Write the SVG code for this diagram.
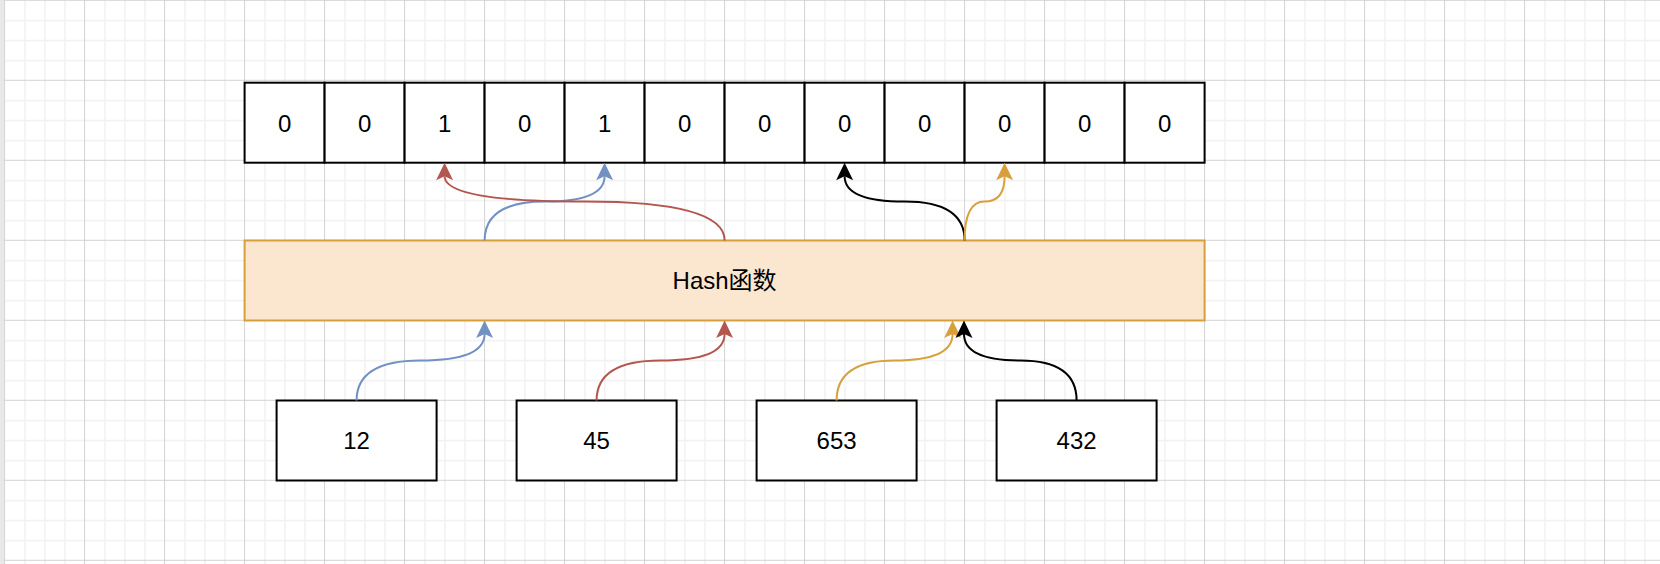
<svg xmlns="http://www.w3.org/2000/svg" width="1660" height="564" viewBox="0 0 1660 564">
  <style>
    .cell { fill: #ffffff; stroke: #000000; stroke-width: 2; }
    .box { fill: #ffffff; stroke: #000000; stroke-width: 2; }
    .hash { fill: #fbe6cf; stroke: #d7a03a; stroke-width: 2; }
    .t { font-family: "Liberation Sans", Arial, Helvetica, "Noto Sans CJK SC", sans-serif; font-size: 24px; fill: #000000; text-anchor: middle; }
    .edge { fill: none; stroke-width: 2; }
    .blue { stroke: #7191c2; }
    .red { stroke: #b3574e; }
    .orange { stroke: #d7a03a; }
    .black { stroke: #000000; }
  </style>
  <defs>
    <pattern id="grid" patternUnits="userSpaceOnUse" x="4.1" y="-0.2" width="80" height="80">
      <rect x="20" y="0" width="1.6" height="80" fill="#f2f2f2"/>
      <rect x="40" y="0" width="1.6" height="80" fill="#f2f2f2"/>
      <rect x="60" y="0" width="1.6" height="80" fill="#f2f2f2"/>
      <rect x="0" y="20" width="80" height="1.6" fill="#f2f2f2"/>
      <rect x="0" y="40" width="80" height="1.6" fill="#f2f2f2"/>
      <rect x="0" y="60" width="80" height="1.6" fill="#f2f2f2"/>
      <rect x="0" y="0" width="1" height="80" fill="#d3d3d3"/>
      <rect x="0" y="0" width="80" height="1" fill="#d3d3d3"/>
    </pattern>
    <marker id="mBlue" markerUnits="userSpaceOnUse" orient="auto" overflow="visible" refX="0" refY="0" markerWidth="20" markerHeight="20">
      <path d="M13.5,0 L-4,-8.5 L0,0 L-4,8.5 Z" fill="#7191c2"/>
    </marker>
    <marker id="mRed" markerUnits="userSpaceOnUse" orient="auto" overflow="visible" refX="0" refY="0" markerWidth="20" markerHeight="20">
      <path d="M13.5,0 L-4,-8.5 L0,0 L-4,8.5 Z" fill="#b3574e"/>
    </marker>
    <marker id="mOrange" markerUnits="userSpaceOnUse" orient="auto" overflow="visible" refX="0" refY="0" markerWidth="20" markerHeight="20">
      <path d="M13.5,0 L-4,-8.5 L0,0 L-4,8.5 Z" fill="#d7a03a"/>
    </marker>
    <marker id="mBlack" markerUnits="userSpaceOnUse" orient="auto" overflow="visible" refX="0" refY="0" markerWidth="20" markerHeight="20">
      <path d="M13.5,0 L-4,-8.5 L0,0 L-4,8.5 Z" fill="#000000"/>
    </marker>
  </defs>

  <rect x="0" y="0" width="1660" height="564" fill="#ffffff"/>
  <rect x="0" y="0" width="1660" height="564" fill="url(#grid)"/>
  <rect x="0" y="0" width="4" height="564" fill="#e8e8e8"/>

  <g id="bits">
    <g id="cell0"><rect class="cell" x="244.6" y="82.7" width="80" height="80"/><text class="t" x="284.6" y="131.8">0</text></g>
    <g id="cell1"><rect class="cell" x="324.6" y="82.7" width="80" height="80"/><text class="t" x="364.6" y="131.8">0</text></g>
    <g id="cell2"><rect class="cell" x="404.6" y="82.7" width="80" height="80"/><text class="t" x="444.6" y="131.8">1</text></g>
    <g id="cell3"><rect class="cell" x="484.6" y="82.7" width="80" height="80"/><text class="t" x="524.6" y="131.8">0</text></g>
    <g id="cell4"><rect class="cell" x="564.6" y="82.7" width="80" height="80"/><text class="t" x="604.6" y="131.8">1</text></g>
    <g id="cell5"><rect class="cell" x="644.6" y="82.7" width="80" height="80"/><text class="t" x="684.6" y="131.8">0</text></g>
    <g id="cell6"><rect class="cell" x="724.6" y="82.7" width="80" height="80"/><text class="t" x="764.6" y="131.8">0</text></g>
    <g id="cell7"><rect class="cell" x="804.6" y="82.7" width="80" height="80"/><text class="t" x="844.6" y="131.8">0</text></g>
    <g id="cell8"><rect class="cell" x="884.6" y="82.7" width="80" height="80"/><text class="t" x="924.6" y="131.8">0</text></g>
    <g id="cell9"><rect class="cell" x="964.6" y="82.7" width="80" height="80"/><text class="t" x="1004.6" y="131.8">0</text></g>
    <g id="cell10"><rect class="cell" x="1044.6" y="82.7" width="80" height="80"/><text class="t" x="1084.6" y="131.8">0</text></g>
    <g id="cell11"><rect class="cell" x="1124.6" y="82.7" width="80" height="80"/><text class="t" x="1164.6" y="131.8">0</text></g>
  </g>

  <g id="hash">
    <rect class="hash" x="244.6" y="240.5" width="960" height="80"/>
    <text class="t" x="724.6" y="289.3">Hash函数</text>
  </g>

  <g id="in12"><rect class="box" x="276.6" y="400.5" width="160" height="80"/><text class="t" x="356.6" y="449.3">12</text></g>
  <g id="in45"><rect class="box" x="516.6" y="400.5" width="160" height="80"/><text class="t" x="596.6" y="449.3">45</text></g>
  <g id="in653"><rect class="box" x="756.6" y="400.5" width="160" height="80"/><text class="t" x="836.6" y="449.3">653</text></g>
  <g id="in432"><rect class="box" x="996.6" y="400.5" width="160" height="80"/><text class="t" x="1076.6" y="449.3">432</text></g>

  <g id="connectors">
    <path class="edge blue" marker-end="url(#mBlue)" d="M356.6,400.5 Q356.6,360.5 420.6,360.5 Q484.6,360.5 484.6,334"/>
    <path class="edge red" marker-end="url(#mRed)" d="M596.6,400.5 Q596.6,360.5 660.6,360.5 Q724.6,360.5 724.6,334"/>
    <path class="edge orange" marker-end="url(#mOrange)" d="M836.6,400.5 Q836.6,360.5 894.6,360.5 Q952.6,360.5 952.6,334"/>
    <path class="edge black" marker-end="url(#mBlack)" d="M1076.6,400.5 Q1076.6,360.5 1020.3,360.5 Q964,360.5 964,334"/>

    <path class="edge blue" marker-end="url(#mBlue)" d="M484.6,240.5 Q484.6,201.6 544.6,201.6 Q604.6,201.6 604.6,176.2"/>
    <path class="edge red" marker-end="url(#mRed)" d="M724.6,240.5 Q724.6,201.6 584.6,201.6 Q444.6,201.6 444.6,176.2"/>
    <path class="edge black" marker-end="url(#mBlack)" d="M964.6,240.5 Q964.6,201.6 904.6,201.6 Q844.6,201.6 844.6,176.2"/>
    <path class="edge orange" marker-end="url(#mOrange)" d="M964.6,240.5 Q964.6,201.6 984.6,201.6 Q1004.6,201.6 1004.6,176.2"/>
  </g>
</svg>
